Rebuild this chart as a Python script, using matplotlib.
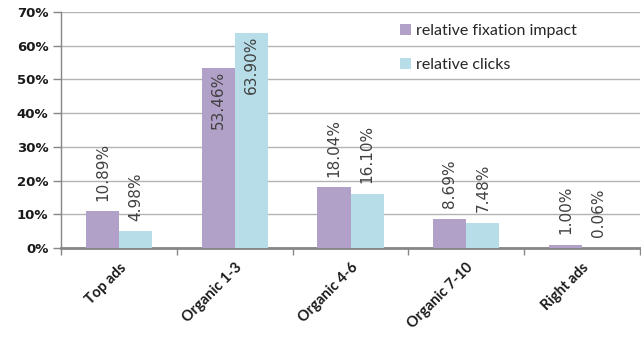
import matplotlib
matplotlib.use("Agg")
import matplotlib.pyplot as plt
import numpy as np
from matplotlib.ticker import MultipleLocator, FuncFormatter, FixedLocator

categories = ["Top ads", "Organic 1-3", "Organic 4-6", "Organic 7-10", "Right ads"]
fixation = [10.89, 53.46, 18.04, 8.69, 1.00]
clicks = [4.98, 63.90, 16.10, 7.48, 0.06]
series_names = ["relative fixation impact", "relative clicks"]

purple = "#B1A0C7"
blue = "#B7DDE8"
grid_col = "#B3B3B3"
axis_col = "#868686"

fig = plt.figure(figsize=(6.41, 3.39), dpi=100)
ax = fig.add_axes([61 / 641, 91 / 339, 579 / 641, 236 / 339])

x = np.arange(len(categories))
w = 0.285
b1 = ax.bar(x - w / 2, fixation, w, color=purple, label=series_names[0], zorder=3)
b2 = ax.bar(x + w / 2, clicks, w, color=blue, label=series_names[1], zorder=3)

ax.set_xlim(-0.5, len(categories) - 0.5)
ax.set_ylim(0, 70)
ax.yaxis.set_major_locator(MultipleLocator(10))
ax.yaxis.set_major_formatter(FuncFormatter(lambda v, p: f"{int(v)}%"))
ax.grid(axis="y", color=grid_col, linewidth=1, zorder=0)
ax.set_axisbelow(True)

for s in ["top", "right"]:
    ax.spines[s].set_visible(False)
ax.spines["left"].set_color(axis_col)
ax.spines["left"].set_linewidth(1)
ax.spines["bottom"].set_color(axis_col)
ax.spines["bottom"].set_linewidth(2)

# category boundaries carry the x tick marks, names sit at the centers
ax.xaxis.set_major_locator(FixedLocator(np.arange(len(categories) + 1) - 0.5))
ax.xaxis.set_major_formatter(FuncFormatter(lambda v, p: ""))
ax.xaxis.set_minor_locator(FixedLocator(x))
ax.set_xticklabels(categories, minor=True, rotation=45, ha="right",
                   rotation_mode="anchor", fontsize=10.5, fontweight="bold",
                   family="Lato", color="#1a1a1a")
for t in ax.get_xticklabels(minor=True):
    t.set_x(t.get_position()[0])
ax.tick_params(axis="x", which="major", direction="out", length=5, width=1, color=axis_col)
ax.tick_params(axis="x", which="minor", length=0, pad=9)
ax.tick_params(axis="y", direction="out", length=6, width=1, color=axis_col,
               labelsize=9.5, pad=3)
for t in ax.get_yticklabels():
    t.set_fontweight("bold")
    t.set_family("DejaVu Sans")
    t.set_color("#1a1a1a")

lab_col = "#404040"
for bars, vals in ((b1, fixation), (b2, clicks)):
    for rect, v in zip(bars, vals):
        cx = rect.get_x() + rect.get_width() / 2
        if v > 45:
            ax.annotate(f"{v:.2f}%", (cx, v), xytext=(0, -2), textcoords="offset points",
                        rotation=90, ha="center", va="top", fontsize=11,
                        color=lab_col, zorder=4)
        else:
            ax.annotate(f"{v:.2f}%", (cx, v), xytext=(0, 7.5), textcoords="offset points",
                        rotation=90, ha="center", va="bottom", fontsize=11,
                        color=lab_col, zorder=4)

leg = ax.legend(loc="upper left", bbox_to_anchor=(0.56, 1.01), frameon=False,
                handlelength=0.7, handleheight=0.7, handletextpad=0.3,
                labelspacing=1.25, prop={"family": "Lato", "size": 11.5})
for t in leg.get_texts():
    t.set_color("#262626")

fig.savefig("out.png", dpi=100)
